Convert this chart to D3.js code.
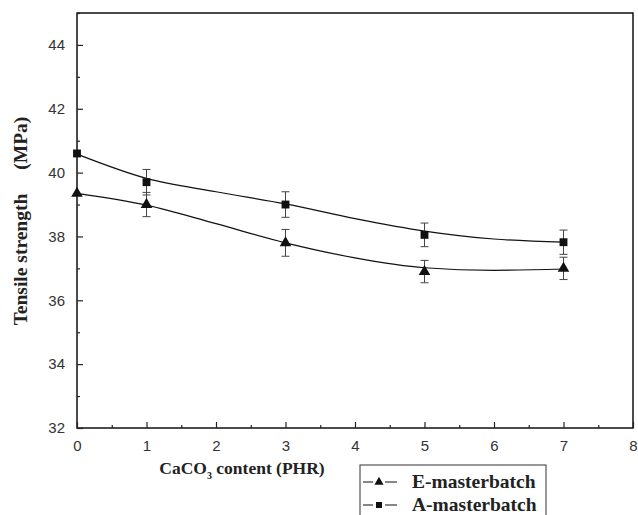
<!DOCTYPE html>
<html>
<head>
<meta charset="utf-8">
<script src="https://cdn.jsdelivr.net/npm/d3@7"></script>
<style>
  body { margin: 0; background: #fff; }
  svg { display: block; }
</style>
</head>
<body>
<svg id="canvas" width="638" height="515"></svg>
<script>
// measured points
const contents = [0, 1, 3, 5, 7];
const eValues = [39.35, 39.0, 37.8, 36.9, 37.0];
const eErr = [0, 0.38, 0.42, 0.35, 0.35];
const aValues = [40.6, 39.7, 39.0, 38.05, 37.82];
const aErr = [0, 0.4, 0.4, 0.37, 0.38];

// fitted curves
const fitX = [0, 1, 2, 3, 4, 5, 6, 7];
const eFit = [39.35, 38.98, 38.4, 37.8, 37.33, 37.02, 36.94, 36.98];
const aFit = [40.58, 39.82, 39.4, 39.02, 38.56, 38.17, 37.92, 37.82];

const xTicks = [0, 1, 2, 3, 4, 5, 6, 7, 8];
const yTicks = [32, 34, 36, 38, 40, 42, 44];

const svg = d3.select("#canvas");
const mLeft = 77, mRight = 633, mTop = 13, mBottom = 428;

let x = d3.scaleLinear().domain([0, 8]).range([mLeft, mRight]);
let y = d3.scaleLinear().domain([32, 45]).range([mBottom, mTop]);

// frame
svg.append("rect")
    .attr("x", mLeft).attr("y", mTop)
    .attr("width", mRight - mLeft).attr("height", mBottom - mTop)
    .attr("fill", "none").attr("stroke", "#111").attr("stroke-width", 1.5);

// axes, ticks inward
svg.append("g")
    .attr("transform", "translate(0," + mBottom + ")")
    .call(d3.axisBottom(x).tickValues(xTicks).tickSize(-6).tickPadding(12).tickFormat(d3.format("d")));
svg.append("g")
    .attr("transform", "translate(0," + mBottom + ")")
    .call(d3.axisBottom(x).tickValues(d3.range(0.5, 8, 1)).tickSize(-3).tickFormat(""));

svg.append("g")
    .attr("transform", "translate(" + mLeft + ",0)")
    .call(d3.axisLeft(y).tickValues(yTicks).tickSize(-6).tickPadding(12).tickFormat(d3.format("d")));
svg.append("g")
    .attr("transform", "translate(" + mLeft + ",0)")
    .call(d3.axisLeft(y).tickValues([33, 35, 37, 39, 41, 43, 45]).tickSize(-3).tickFormat(""));

svg.selectAll(".domain").remove();
svg.selectAll(".tick line").attr("stroke", "#222").attr("stroke-width", 1.2);
svg.selectAll(".tick text")
    .attr("font-family", "Liberation Sans, Arial, sans-serif")
    .attr("font-size", 15)
    .attr("fill", "#333");

// fitted lines
const line = d3.line()
    .x((d, i) => x(fitX[i]))
    .y(d => y(d))
    .curve(d3.curveMonotoneX);

[eFit, aFit].forEach(f => {
    svg.append("path")
        .attr("d", line(f))
        .attr("fill", "none")
        .attr("stroke", "#111")
        .attr("stroke-width", 1.2);
});

// error bars
function errorBars(vals, errs) {
    const g = svg.append("g").attr("stroke", "#444").attr("stroke-width", 1);
    vals.forEach((v, i) => {
        if (!errs[i]) return;
        const cx = x(contents[i]);
        g.append("line").attr("x1", cx).attr("x2", cx).attr("y1", y(v - errs[i])).attr("y2", y(v + errs[i]));
        g.append("line").attr("x1", cx - 4).attr("x2", cx + 4).attr("y1", y(v - errs[i])).attr("y2", y(v - errs[i]));
        g.append("line").attr("x1", cx - 4).attr("x2", cx + 4).attr("y1", y(v + errs[i])).attr("y2", y(v + errs[i]));
    });
}
errorBars(eValues, eErr);
errorBars(aValues, aErr);

const tri = d3.symbol().type(d3.symbolTriangle).size(58);
const sq = d3.symbol().type(d3.symbolSquare).size(62);

svg.append("g").selectAll("path")
    .data(eValues)
    .join("path")
    .attr("d", tri)
    .attr("transform", (d, i) => "translate(" + x(contents[i]) + "," + y(d) + ")")
    .attr("fill", "#111");

svg.append("g").selectAll("path")
    .data(aValues)
    .join("path")
    .attr("d", sq)
    .attr("transform", (d, i) => "translate(" + x(contents[i]) + "," + y(d) + ")")
    .attr("fill", "#111");

// axis titles
const xt = svg.append("text")
    .attr("x", 242).attr("y", 474)
    .attr("text-anchor", "middle")
    .attr("font-family", "Liberation Serif, Times New Roman, serif")
    .attr("font-weight", "bold")
    .attr("font-size", 17.5)
    .attr("fill", "#222");
xt.append("tspan").text("CaCO");
xt.append("tspan").text("3").attr("font-size", 10).attr("dy", 5);
xt.append("tspan").text(" content (PHR)").attr("dy", -5);

const yt = svg.append("text")
    .attr("transform", "translate(27,221) rotate(-90)")
    .attr("text-anchor", "middle")
    .attr("font-family", "Liberation Serif, Times New Roman, serif")
    .attr("font-weight", "bold")
    .attr("font-size", 19.5)
    .attr("fill", "#222");
yt.append("tspan").text("Tensile strength");
yt.append("tspan").attr("dx", 24).text("(MPa)");

// legend
const lg = svg.append("g").attr("transform", "translate(360,465)");
lg.append("rect")
    .attr("width", 186).attr("height", 60)
    .attr("fill", "#fff").attr("stroke", "#333").attr("stroke-width", 1);

const legendItems = [["E-masterbatch", d3.symbolTriangle], ["A-masterbatch", d3.symbolSquare]];
legendItems.forEach((it, i) => {
    const ry = 17 + i * 23;
    lg.append("line").attr("x1", 3).attr("x2", 37).attr("y1", ry).attr("y2", ry)
        .attr("stroke", "#111").attr("stroke-width", 1.2);
    lg.append("rect").attr("x", 13).attr("y", ry - 5).attr("width", 12).attr("height", 10).attr("fill", "#fff");
    lg.append("path").attr("d", d3.symbol().type(it[1]).size(36)())
        .attr("transform", "translate(19," + ry + ")").attr("fill", "#111");
    lg.append("text")
        .attr("x", 52).attr("y", ry + 6)
        .attr("font-family", "Liberation Serif, Times New Roman, serif")
        .attr("font-weight", "bold")
        .attr("font-size", 19.5)
        .attr("fill", "#222")
        .text(it[0]);
});
</script>
</body>
</html>
